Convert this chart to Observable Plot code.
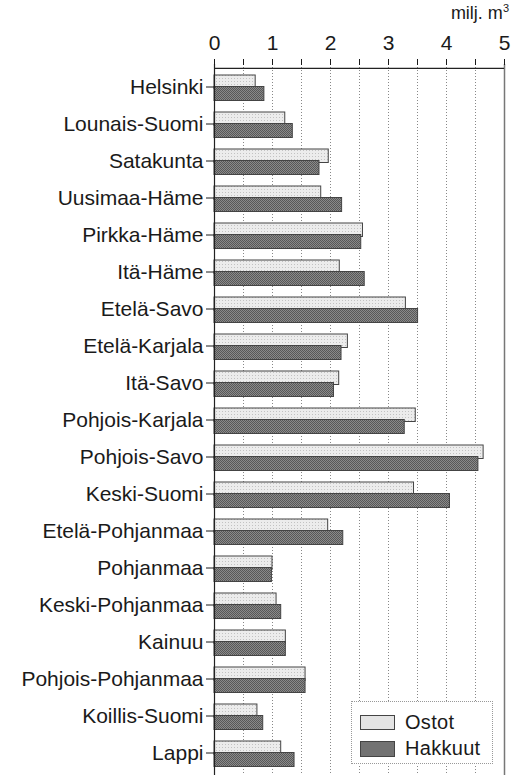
<!DOCTYPE html>
<html>
<head>
<meta charset="utf-8">
<script src="https://cdn.jsdelivr.net/npm/d3@7"></script>
<script src="https://cdn.jsdelivr.net/npm/@observablehq/plot@0.6"></script>
<style>
  html, body { margin: 0; padding: 0; background: #fff; }
  #wrap { position: relative; width: 525px; height: 775px; font-family: "Liberation Sans", Arial, Helvetica, sans-serif; color: #1a1a1a; }
  #unit { position: absolute; right: 16px; top: 2px; font-size: 18px; }
  #unit sup { font-size: 11px; }
  #legend { position: absolute; left: 351px; top: 701px; width: 142px; height: 63px; border: 1px dotted #999; background: #fff; box-sizing: border-box; }
  .li { position: absolute; left: 8px; display: flex; align-items: center; font-size: 20px; letter-spacing: 0.3px; }
  .sw { width: 35px; height: 15px; border: 1px solid #444; box-sizing: border-box; margin-right: 10px; }
</style>
</head>
<body>
<svg width="0" height="0" style="position:absolute">
  <defs>
    <pattern id="pO" width="3" height="3" patternUnits="userSpaceOnUse">
      <rect width="3" height="3" fill="#ececec"/>
      <rect width="1" height="1" fill="#c2c2c2"/>
    </pattern>
    <pattern id="pH" width="2" height="2" patternUnits="userSpaceOnUse">
      <rect width="2" height="2" fill="#8a8a8a"/>
      <rect width="1" height="1" fill="#585858"/>
      <rect x="1" y="1" width="1" height="1" fill="#585858"/>
    </pattern>
  </defs>
</svg>
<div id="wrap">
  <div id="chart"></div>
  <div id="unit">milj. m<sup>3</sup></div>
  <div id="legend">
    <div class="li" style="top:9px"><div class="sw" style="background:#e4e4e4;"></div>Ostot</div>
    <div class="li" style="top:35px"><div class="sw" style="background:#727272; height:16px;"></div>Hakkuut</div>
  </div>
</div>
<script>
const categories = ["Helsinki","Lounais-Suomi","Satakunta","Uusimaa-Häme","Pirkka-Häme","Itä-Häme","Etelä-Savo","Etelä-Karjala","Itä-Savo","Pohjois-Karjala","Pohjois-Savo","Keski-Suomi","Etelä-Pohjanmaa","Pohjanmaa","Keski-Pohjanmaa","Kainuu","Pohjois-Pohjanmaa","Koillis-Suomi","Lappi"];
const ostot =   [0.71, 1.22, 1.97, 1.84, 2.56, 2.16, 3.30, 2.30, 2.15, 3.47, 4.64, 3.44, 1.96, 1.00, 1.07, 1.23, 1.57, 0.74, 1.15];
const hakkuut = [0.86, 1.35, 1.81, 2.20, 2.53, 2.59, 3.51, 2.19, 2.06, 3.28, 4.55, 4.06, 2.22, 0.99, 1.15, 1.23, 1.57, 0.84, 1.38];
const gridTicks = [0.5, 1, 1.5, 2, 2.5, 3, 3.5, 4, 4.5];
const axisTicks = [0, 0.5, 1, 1.5, 2, 2.5, 3, 3.5, 4, 4.5, 5];
const seriesNames = ["Ostot", "Hakkuut"];

const data = categories.map((c, i) => ({region: c, ostot: ostot[i], hakkuut: hakkuut[i]}));

const chart = Plot.plot({
  width: 525,
  height: 775,
  marginTop: 64,
  marginBottom: 0,
  marginLeft: 214,
  marginRight: 21,
  x: {domain: [0, 5]},
  y: {domain: categories, padding: 0},
  style: {fontFamily: "'Liberation Sans', Arial, Helvetica, sans-serif", color: "#1a1a1a", background: "white", overflow: "visible"},
  marks: [
    Plot.ruleX(gridTicks, {stroke: "#888", strokeDasharray: "1,2", strokeWidth: 1}),
    Plot.ruleX([5], {stroke: "#777", strokeWidth: 1.5}),
    Plot.barX(data, {y: "region", x: "ostot", fill: "url(#pO)", stroke: "#444", strokeWidth: 1, insetTop: 7, insetBottom: 16.5}),
    Plot.barX(data, {y: "region", x: "hakkuut", fill: "url(#pH)", stroke: "#444", strokeWidth: 1, insetTop: 18.5, insetBottom: 4.5}),
    Plot.ruleX([0], {stroke: "#222", strokeWidth: 1.2}),
    Plot.ruleY([categories[0]], {x1: 0, x2: 5, dy: -18.7, stroke: "#222", strokeWidth: 1.2}),
    Plot.axisX({anchor: "top", ticks: axisTicks, tickSize: 6, tickPadding: 9, fontSize: 21, label: null,
      tickFormat: d => Number.isInteger(d) ? String(d) : ""}),
    Plot.axisY({anchor: "left", tickSize: 8, tickPadding: 3, fontSize: 21, label: null, letterSpacing: 0.5})
  ]
});
document.getElementById("chart").appendChild(chart);
</script>
</body>
</html>
